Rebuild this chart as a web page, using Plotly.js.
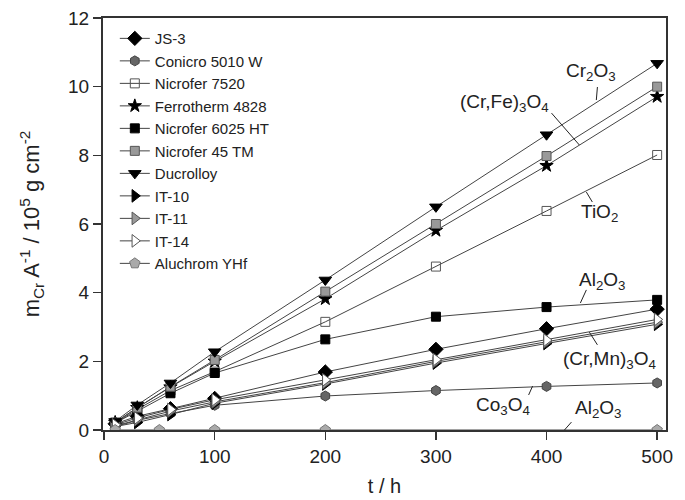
<!DOCTYPE html>
<html>
<head>
<meta charset="utf-8">
<script src="https://cdn.plot.ly/plotly-3.0.1.min.js"></script>
<style>html,body{margin:0;padding:0;background:#fff;}#chart{width:685px;height:500px;}</style>
</head>
<body>
<div id="chart"></div>
<script>
// time points (h)
const tMain = [10, 30, 60, 100, 200, 300, 400, 500];
const tAluchrom = [10, 50, 100, 200, 500];

// m_Cr A^-1 / 10^5 g cm^-2
const js3        = [0.18, 0.40, 0.62, 0.92, 1.69, 2.35, 2.95, 3.52];
const conicro    = [0.10, 0.28, 0.48, 0.72, 0.99, 1.15, 1.27, 1.37];
const nicro7520  = [0.20, 0.60, 1.15, 1.70, 3.15, 4.76, 6.38, 8.01];
const ferrotherm = [0.22, 0.65, 1.25, 2.00, 3.82, 5.81, 7.70, 9.71];
const nicro6025  = [0.20, 0.55, 1.07, 1.66, 2.64, 3.30, 3.58, 3.79];
const nicro45    = [0.22, 0.65, 1.26, 2.04, 4.03, 6.00, 7.98, 10.00];
const ducrolloy  = [0.25, 0.73, 1.37, 2.28, 4.37, 6.50, 8.60, 10.68];
const it10       = [0.10, 0.22, 0.45, 0.78, 1.34, 1.95, 2.52, 3.08];
const it11       = [0.12, 0.30, 0.55, 0.82, 1.38, 2.00, 2.57, 3.14];
const it14       = [0.15, 0.35, 0.60, 0.88, 1.46, 2.05, 2.62, 3.22];
const aluchrom   = [0.0, 0.0, 0.0, 0.0, 0.0];

const names = ["JS-3", "Conicro 5010 W", "Nicrofer 7520", "Ferrotherm 4828", "Nicrofer 6025 HT",
               "Nicrofer 45 TM", "Ducrolloy", "IT-10", "IT-11", "IT-14", "Aluchrom YHf"];

// oxide labels
const labelText = ["Cr<sub>2</sub>O<sub>3</sub>", "(Cr,Fe)<sub>3</sub>O<sub>4</sub>", "TiO<sub>2</sub>",
                   "Al<sub>2</sub>O<sub>3</sub>", "(Cr,Mn)<sub>3</sub>O<sub>4</sub>", "Co<sub>3</sub>O<sub>4</sub>",
                   "Al<sub>2</sub>O<sub>3</sub>"];
const labelX = [440.5, 362, 448, 450.5, 456.8, 360.4, 446.8];
const labelY = [10.44, 9.52, 6.32, 4.34, 2.04, 0.70, 0.61];
// pointer lines [x0, y0, x1, y1]
const pointerX0 = [446, 404.5, 436, 436, 446, 383.8, 422.5];
const pointerY0 = [9.99, 9.23, 6.93, 4.08, 2.48, 1.02, 0.23];
const pointerX1 = [445, 429.7, 441.4, 430.6, 438.7, 387.4, 416.2];
const pointerY1 = [9.61, 8.30, 6.64, 3.70, 2.85, 1.28, 0.0];

const FONT = "Arial, Liberation Sans, sans-serif";
const lineStyle = {color: "#444", width: 1};
function tr(name, x, y, symbol, fill, border, size) {
  return {
    type: "scatter", mode: "lines+markers", name: name, x: x, y: y,
    line: lineStyle,
    marker: {symbol: symbol, color: fill, size: size || 9, line: {color: border, width: 1}}
  };
}

const data = [
  tr(names[0], tMain, js3, "diamond", "#000", "#000", 11),
  tr(names[1], tMain, conicro, "hexagon", "#666", "#444", 10),
  tr(names[2], tMain, nicro7520, "square-open", "#555", "#555", 9),
  tr(names[3], tMain, ferrotherm, "star", "#000", "#000", 10),
  tr(names[4], tMain, nicro6025, "square", "#000", "#000", 9),
  tr(names[5], tMain, nicro45, "square", "#999", "#555", 9),
  tr(names[6], tMain, ducrolloy, "triangle-down", "#000", "#000", 11),
  tr(names[7], tMain, it10, "triangle-right", "#000", "#000", 11),
  tr(names[8], tMain, it11, "triangle-right", "#999", "#555", 11),
  tr(names[9], tMain, it14, "triangle-right", "#fff", "#555", 11),
  tr(names[10], tAluchrom, aluchrom, "pentagon", "#aaa", "#777", 11)
];

const annotations = labelText.map((t, i) => ({
  x: labelX[i], y: labelY[i], xref: "x", yref: "y", text: t, showarrow: false,
  font: {family: FONT, size: 19, color: "#222"}
}));
const shapes = pointerX0.map((x0, i) => ({
  type: "line", xref: "x", yref: "y", x0: x0, y0: pointerY0[i], x1: pointerX1[i], y1: pointerY1[i],
  line: {color: "#222", width: 1}
}));

const axisCommon = {
  showline: true, linecolor: "#333", linewidth: 2, mirror: true,
  ticks: "outside", ticklen: 8, tickwidth: 1.5, tickcolor: "#333",
  showgrid: false, zeroline: false,
  tickfont: {family: FONT, size: 19, color: "#222"}
};

const layout = {
  width: 685, height: 500,
  margin: {l: 103, r: 19, t: 18, b: 70},
  paper_bgcolor: "#fff", plot_bgcolor: "#fff",
  font: {family: FONT, color: "#222"},
  showlegend: true,
  legend: {x: 0.021, y: 0.99, xanchor: "left", yanchor: "top", bgcolor: "rgba(0,0,0,0)",
           font: {family: FONT, size: 15, color: "#222"}, tracegroupgap: 0},
  xaxis: Object.assign({}, axisCommon, {
    range: [-1, 508], tickvals: [0, 100, 200, 300, 400, 500],
    title: {text: "t / h", font: {family: FONT, size: 20, color: "#222"}, standoff: 13}
  }),
  yaxis: Object.assign({}, axisCommon, {
    range: [0, 12], tickvals: [0, 2, 4, 6, 8, 10, 12],
    title: {text: "m<sub>Cr</sub> A<sup>-1</sup> / 10<sup>5</sup> g cm<sup>-2</sup>",
            font: {family: FONT, size: 22, color: "#222"}, standoff: 22}
  }),
  annotations: annotations,
  shapes: shapes
};

Plotly.newPlot("chart", data, layout, {displayModeBar: false, staticPlot: true});
</script>
</body>
</html>
